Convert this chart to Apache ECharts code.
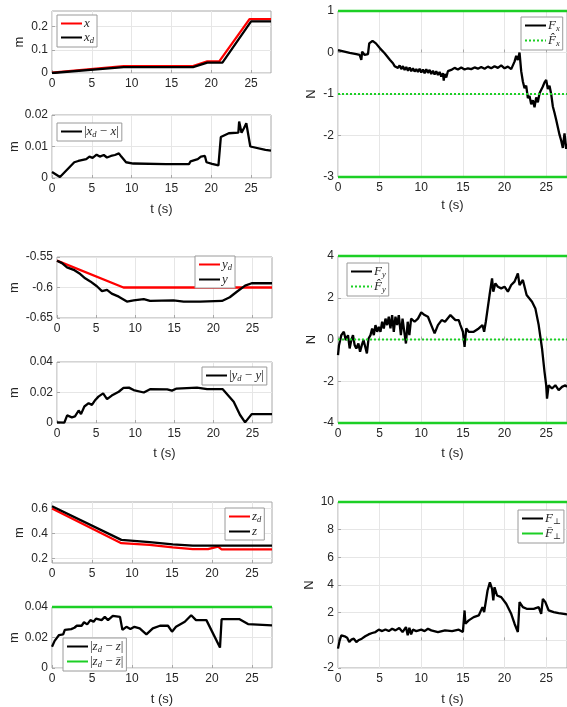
<!DOCTYPE html>
<html>
<head>
<meta charset="utf-8">
<script src="https://cdn.jsdelivr.net/npm/echarts@6/dist/echarts.min.js"></script>
<style>html,body{margin:0;padding:0;background:#fff}#c{width:567px;height:707px}</style>
</head>
<body>
<div id="c"></div>
<script>
// ---------------- DATA ----------------
const tLim = [0, 27.5];
const xTicks = [0, 5, 10, 15, 20, 25];

// x position
const xT  = [0, 9, 17.7, 19.5, 21.0, 24.8, 27.5];
const xV  = [0.002, 0.03, 0.03, 0.05, 0.05, 0.233, 0.233];
const xdT = [0, 9, 17.7, 19.5, 21.4, 25.0, 27.5];
const xdV = [0, 0.025, 0.025, 0.045, 0.045, 0.223, 0.223];
// |xd - x|
const exT = [0,1.0,2.8,3.3,4.3,4.7,5.1,5.6,6.0,6.5,6.9,7.4,7.9,8.4,8.7,9.3,10.2,14.3,17.2,17.4,17.6,18.3,18.7,19.2,19.4,20.1,20.9,21.2,22.2,23.4,23.5,23.8,24.1,24.4,24.6,24.9,26.8,27.5];
const exV = [0.0019,0.0003,0.005,0.0054,0.006,0.0068,0.0064,0.0074,0.0068,0.0073,0.0065,0.007,0.0073,0.0078,0.0068,0.005,0.0046,0.0044,0.0044,0.0053,0.0047,0.006,0.0068,0.007,0.005,0.0045,0.004,0.013,0.0142,0.0144,0.0179,0.0144,0.0158,0.0174,0.0172,0.01,0.0089,0.0087];

// y position
const ydT = [0, 8.5, 27.5];
const ydV = [-0.556, -0.6, -0.6];
const yT = [0,0.64,1.28,2.13,2.98,3.6,4.26,5.1,5.75,6.4,7.0,7.9,8.94,9.8,11.1,11.9,14.9,16.2,18.3,21.1,22.1,23.0,24.06,24.9,27.5];
const yV = [-0.556,-0.560,-0.567,-0.571,-0.578,-0.585,-0.590,-0.598,-0.606,-0.604,-0.61,-0.615,-0.623,-0.621,-0.619,-0.622,-0.621,-0.623,-0.623,-0.622,-0.616,-0.607,-0.597,-0.593,-0.593];
// |yd - y|
const eyT = [0,0.94,1.3,1.9,2.3,2.77,3.07,3.5,3.75,4.05,4.47,4.9,5.3,5.9,6.4,7.0,7.9,8.5,9.2,9.8,11.1,11.9,14.1,14.7,15.3,17.9,19.2,21.2,22.6,23.4,24.06,24.9,27.5];
const eyV = [0.0004,0.0002,0.005,0.0037,0.0043,0.0082,0.0058,0.0108,0.0097,0.013,0.0119,0.0151,0.0173,0.0194,0.0157,0.018,0.0205,0.023,0.0232,0.0216,0.02,0.0222,0.022,0.0212,0.0226,0.0232,0.0222,0.0222,0.014,0.0054,0.0004,0.0058,0.0058];

// z position
const zdT = [0, 8.67, 12.2, 15.1, 17.6, 19.5, 20.75, 21.0, 21.2, 27.5];
const zdV = [0.6, 0.324, 0.311, 0.29, 0.277, 0.277, 0.297, 0.297, 0.275, 0.275];
const zT = [0, 8.67, 12.2, 15.1, 17.6, 27.5];
const zV = [0.618, 0.35, 0.332, 0.315, 0.305, 0.305];
// |zd - z|
const ezT = [0,0.33,0.88,1.4,1.6,2.4,2.8,3.1,3.7,4.0,4.4,4.8,5.2,5.5,6.2,6.6,7.0,7.6,8.5,8.8,9.3,9.8,10.3,10.96,11.8,12.6,13.5,14.5,15.0,15.5,16.6,17.4,18.0,19.3,21.0,21.2,23.45,24.5,27.5];
const ezV = [0.014,0.0178,0.0216,0.022,0.025,0.0255,0.0264,0.0277,0.0277,0.03,0.0286,0.0314,0.0303,0.0324,0.0314,0.0335,0.0314,0.0342,0.0335,0.025,0.027,0.0255,0.027,0.026,0.022,0.026,0.0277,0.0277,0.0238,0.027,0.0303,0.0346,0.0314,0.0314,0.0134,0.032,0.032,0.0288,0.028];
const ezBar = [0.04, 0.04];

// Fx
const fxT = [0,0.2,1.4,2.2,2.6,2.8,2.9,3.2,3.6,3.75,4.15,4.55,5.04,5.6,6.25,6.6,6.8,7.0,7.2,7.4,7.6,7.8,8.0,8.2,8.4,8.6,8.8,9.0,9.2,9.4,9.6,9.8,10.0,10.2,10.4,10.6,10.8,11.0,11.2,11.4,11.6,11.8,12.0,12.2,12.4,12.6,12.7,12.8,13.0,13.2,13.6,14.0,14.4,14.8,15.2,15.6,16.0,16.4,16.8,17.2,17.6,18.0,18.4,18.8,19.2,19.6,20.0,20.4,20.8,21.0,21.2,21.4,21.6,21.8,22.0,22.2,22.4,22.6,22.8,23.0,23.2,23.4,23.6,23.8,24.0,24.2,24.4,24.6,24.8,25.0,25.2,25.4,25.6,25.8,26.0,26.2,26.4,26.6,26.8,27.0,27.2,27.4,27.5];
const fxV = [0.06,0.02,-0.01,-0.04,-0.06,-0.18,0.02,-0.06,-0.04,0.22,0.28,0.22,0.1,-0.02,-0.18,-0.26,-0.33,-0.29,-0.37,-0.31,-0.40,-0.33,-0.42,-0.35,-0.44,-0.36,-0.45,-0.38,-0.46,-0.40,-0.47,-0.39,-0.48,-0.41,-0.50,-0.40,-0.49,-0.42,-0.52,-0.44,-0.53,-0.45,-0.54,-0.47,-0.58,-0.50,-0.68,-0.52,-0.60,-0.45,-0.42,-0.37,-0.41,-0.36,-0.41,-0.38,-0.40,-0.36,-0.39,-0.35,-0.39,-0.34,-0.38,-0.33,-0.37,-0.31,-0.38,-0.34,-0.40,-0.36,-0.22,-0.08,-0.18,0.0,-0.45,-0.70,-0.86,-0.80,-1.10,-1.05,-1.25,-1.15,-1.32,-1.08,-1.20,-0.98,-1.02,-0.82,-0.72,-0.66,-0.88,-0.80,-1.00,-1.30,-1.45,-1.62,-1.80,-1.98,-2.12,-2.30,-1.95,-2.32,-2.20];
const fxHat = [-1, -1];
const fxUpper = [1, 1];
const fxLower = [-3, -3];

// Fy
const fyT = [0,0.12,0.4,0.7,0.94,1.2,1.4,1.6,1.8,2.0,2.2,2.45,2.65,2.86,3.06,3.27,3.47,3.67,3.9,4.1,4.3,4.5,4.7,4.9,5.1,5.3,5.5,5.7,5.9,6.1,6.3,6.5,6.7,6.9,7.1,7.3,7.55,7.75,7.96,8.16,8.37,8.57,8.78,9.2,9.6,10.0,10.4,10.8,11.2,11.6,12.0,12.45,12.85,13.5,14.1,14.5,14.7,15.0,15.2,15.4,15.7,16.3,16.9,17.35,17.55,17.75,18.2,18.5,18.65,18.9,19.2,19.6,20.0,20.4,20.8,21.2,21.6,21.8,22.2,22.65,23.3,23.7,24.1,24.5,24.8,25.0,25.1,25.3,25.7,26.1,26.5,26.9,27.3,27.5];
const fyV = [-0.75,-0.27,0.21,0.37,-0.03,0.21,-0.43,-0.03,0.21,-0.27,-0.43,-0.19,-0.59,-0.27,-0.03,-0.35,-0.67,0.05,0.21,0.53,0.21,0.69,0.37,0.61,0.37,0.85,0.53,1.0,0.69,1.09,0.53,1.17,0.37,1.09,0.69,1.17,0.21,1.0,0.37,-0.19,0.85,0.21,1.0,0.85,1.0,1.3,1.17,1.09,0.69,0.29,0.69,0.93,0.85,1.17,0.93,0.93,0.69,0.37,-0.35,0.53,0.37,0.37,0.53,0.69,0.37,0.85,2.13,2.93,2.29,2.69,2.53,2.45,2.53,2.29,2.61,2.77,3.17,2.61,2.85,2.13,1.81,1.49,0.69,-0.43,-1.55,-2.19,-2.83,-2.19,-2.35,-2.19,-2.43,-2.27,-2.19,-2.27];
const fyHat = [0, 0];
const fyUpper = [4, 4];
const fyLower = [-4, -4];

// F perpendicular
const fpT = [0,0.2,0.4,0.6,0.8,1.1,1.35,1.6,1.9,2.2,2.45,2.86,3.27,3.67,4.1,4.5,4.9,5.3,5.7,6.1,6.5,6.9,7.35,7.75,8.16,8.37,8.57,8.78,9.0,9.4,10.0,10.4,10.8,11.2,12.0,12.85,13.7,14.5,15.0,15.2,15.3,15.7,16.3,16.9,17.35,17.55,17.96,18.24,18.5,18.65,18.8,19.1,19.6,20.2,20.8,21.2,21.6,21.8,22.2,22.65,23.5,24.1,24.4,24.6,24.9,25.1,25.3,25.9,26.5,27.1,27.5];
const fpV = [-0.6,0,0.36,0.48,0.29,0.19,-0.12,0.05,0.12,-0.12,0,0.12,0.29,0.43,0.53,0.6,0.77,0.67,0.79,0.67,0.84,0.72,0.89,0.6,0.96,0.36,0.91,0.43,0.77,0.67,0.77,0.67,0.84,0.72,0.6,0.72,0.67,0.77,0.6,2.16,1.2,1.44,1.68,1.8,2.4,2.04,3.6,4.2,3.72,2.88,3.84,3.24,3.12,2.64,1.92,1.2,0.6,2.76,2.4,2.28,2.28,2.4,1.92,3.0,2.76,2.64,2.16,2.04,1.97,1.92,1.87];
const fpBar = [10, 10];

// ---------------- STYLE / LAYOUT ----------------
const RED = '#ff0000', BLACK = '#000000', GREEN = '#1ccf25';
const TXT = '#262626';
const pairs = (ts, vs) => ts.map((t, i) => [t, vs[i]]);
const fmt = v => String(+(+v).toFixed(4));

const panels = [
  {grid:{left:52, top:11, width:219, height:62}, ymin:0, ymax:0.268, yt:[0,0.1,0.2], gap:26, xname:false},
  {grid:{left:52, top:115, width:219, height:63}, ymin:0, ymax:0.02, yt:[0,0.01,0.02], gap:28, xname:true, xgap:25},
  {grid:{left:57, top:257, width:215, height:61}, ymin:-0.65, ymax:-0.55, yt:[-0.65,-0.6,-0.55], gap:36, xname:false},
  {grid:{left:57, top:362, width:215, height:61}, ymin:0, ymax:0.04, yt:[0,0.02,0.04], gap:36, xname:true, xgap:24},
  {grid:{left:52, top:502, width:220, height:61}, ymin:0.166, ymax:0.652, yt:[0.2,0.4,0.6], gap:26, xname:false},
  {grid:{left:52, top:607, width:220, height:61}, ymin:0, ymax:0.04, yt:[0,0.02,0.04], gap:30, xname:true, xgap:25},
  {grid:{left:338, top:11, width:229, height:166}, ymin:-3, ymax:1, yt:[-3,-2,-1,0,1], gap:20, xname:true, xgap:22, yname:'N'},
  {grid:{left:338, top:256, width:229, height:167}, ymin:-4, ymax:4, yt:[-4,-2,0,2,4], gap:20, xname:true, xgap:24, yname:'N'},
  {grid:{left:338, top:502, width:229, height:166}, ymin:-2, ymax:10, yt:[-2,0,2,4,6,8,10], gap:22, xname:true, xgap:25, yname:'N'}
];

const grid = panels.map(p => Object.assign({show:true, borderColor:'#a8a8a8', borderWidth:1, backgroundColor:'#fff'}, p.grid));
const xAxis = panels.map((p, i) => ({
  type:'value', gridIndex:i, min:tLim[0], max:tLim[1],
  axisLine:{show:false},
  axisTick:{show:true, inside:true, length:3, lineStyle:{color:'#a8a8a8'}, customValues:xTicks},
  axisLabel:{customValues:xTicks, color:TXT, fontSize:12, fontFamily:'Liberation Sans, Arial', margin:5, formatter:fmt},
  splitLine:{show:true, lineStyle:{color:'#e6e6e6', width:1}},
  name: p.xname ? 't (s)' : '', nameLocation:'middle', nameGap:p.xgap || 22,
  nameTextStyle:{color:TXT, fontSize:13, fontFamily:'Liberation Sans, Arial'}
}));
const yAxis = panels.map((p, i) => ({
  type:'value', gridIndex:i, min:p.ymin, max:p.ymax,
  axisLine:{show:false},
  axisTick:{show:true, inside:true, length:3, lineStyle:{color:'#a8a8a8'}, customValues:p.yt},
  axisLabel:{customValues:p.yt, color:TXT, fontSize:12, fontFamily:'Liberation Sans, Arial', margin:4, formatter:fmt},
  splitLine:{show:true, lineStyle:{color:'#e6e6e6', width:1}},
  name: p.yname || 'm', nameLocation:'middle', nameGap:p.gap,
  nameTextStyle:{color:TXT, fontSize:13, fontFamily:'Liberation Sans, Arial'}
}));

function line(name, idx, data, color, opts) {
  opts = opts || {};
  return {
    type:'line', name:name, xAxisIndex:idx, yAxisIndex:idx, data:data,
    symbol:'none', showSymbol:false, animation:false, clip: opts.clip !== undefined ? opts.clip : true,
    z: opts.z || 2,
    lineStyle:{color:color, width: opts.width || 2.3, type: opts.type || 'solid'},
    itemStyle:{color:color}
  };
}

const series = [
  line('x', 0, pairs(xT, xV), RED),
  line('x_d', 0, pairs(xdT, xdV), BLACK),
  line('ex', 1, pairs(exT, exV), BLACK),
  line('y_d', 2, pairs(ydT, ydV), RED),
  line('y', 2, pairs(yT, yV), BLACK),
  line('ey', 3, pairs(eyT, eyV), BLACK),
  line('z_d', 4, pairs(zdT, zdV), RED),
  line('z', 4, pairs(zT, zV), BLACK),
  line('ez', 5, pairs(ezT, ezV), BLACK),
  line('ezbar', 5, pairs(tLim, ezBar), GREEN, {clip:false}),
  line('Fx', 6, pairs(fxT, fxV), BLACK),
  line('Fxhat', 6, pairs(tLim, fxHat), GREEN, {type:[2,2], z:3, width:2.2}),
  line('FxU', 6, pairs(tLim, fxUpper), GREEN, {clip:false, width:2.5}),
  line('FxL', 6, pairs(tLim, fxLower), GREEN, {clip:false, width:2.5}),
  line('Fy', 7, pairs(fyT, fyV), BLACK),
  line('Fyhat', 7, pairs(tLim, fyHat), GREEN, {type:[2,2], z:3, width:2.2}),
  line('FyU', 7, pairs(tLim, fyUpper), GREEN, {clip:false, width:2.5}),
  line('FyL', 7, pairs(tLim, fyLower), GREEN, {clip:false, width:2.5}),
  line('Fp', 8, pairs(fpT, fpV), BLACK),
  line('Fpbar', 8, pairs(tLim, fpBar), GREEN, {clip:false, width:2.5})
];

const labels = {
  'x':'{i|x}', 'x_d':'{i|x}{s|d}', 'ex':'{r||}{i|x}{s|d}{r| − }{i|x}{r||}',
  'y_d':'{i|y}{s|d}', 'y':'{i|y}', 'ey':'{r||}{i|y}{s|d}{r| − }{i|y}{r||}',
  'z_d':'{i|z}{s|d}', 'z':'{i|z}', 'ez':'{r||}{i|z}{s|d}{r| − }{i|z}{r||}', 'ezbar':'{r||}{i|z}{s|d}{r| − }{i|z̄}{r||}',
  'Fx':'{i|F}{s|x}', 'Fxhat':'{i|F̂}{s|x}', 'Fy':'{i|F}{s|y}', 'Fyhat':'{i|F̂}{s|y}',
  'Fp':'{i|F}{s|⊥}', 'Fpbar':'{i|F̄}{s|⊥}'
};
const rich = {
  i:{fontFamily:'Liberation Serif, DejaVu Serif', fontStyle:'italic', fontSize:13, color:TXT},
  s:{fontFamily:'Liberation Serif, DejaVu Serif', fontStyle:'italic', fontSize:8.5, color:TXT, padding:[6,0,0,0]},
  r:{fontFamily:'Liberation Serif, DejaVu Serif', fontSize:13, color:TXT}
};
function lg(names, left, top) {
  return {
    data:names, left:left, top:top, orient:'vertical', itemWidth:21, itemHeight:10, itemGap:1,
    padding:[2,3,2,3], borderColor:'#9a9a9a', borderWidth:1, backgroundColor:'#fff', borderRadius:0,
    selectedMode:false, formatter:n => labels[n], textStyle:{rich:rich, padding:[0,0,0,-3]}, z:10,
    itemStyle:{opacity:0}
  };
}
const legend = [
  lg(['x','x_d'], 57, 15),
  lg(['ex'], 57, 123),
  lg(['y_d','y'], 195, 256),
  lg(['ey'], 202, 367),
  lg(['z_d','z'], 225, 508),
  lg(['ez','ezbar'], 63, 638),
  lg(['Fx','Fxhat'], 521, 17),
  lg(['Fy','Fyhat'], 347, 263),
  lg(['Fp','Fpbar'], 518, 510)
];

const chart = echarts.init(document.getElementById('c'), null, {renderer:'canvas'});
chart.setOption({animation:false, backgroundColor:'#fff', grid, xAxis, yAxis, series, legend});
</script>
</body>
</html>
